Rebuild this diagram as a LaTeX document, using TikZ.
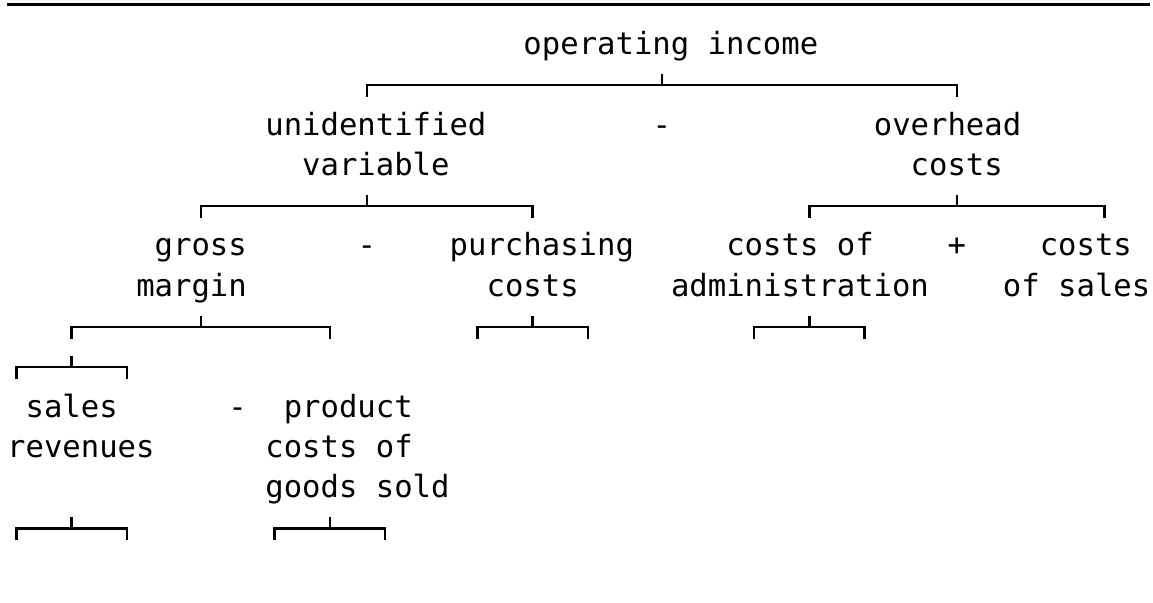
\documentclass[tikz,border=0pt]{standalone}
\usepackage{fontspec}
\newfontfamily\monofam{DejaVu Sans Mono}
\newcommand\bracketrow[5]{%
  \coordinate (#1L) at (#3+0.5,#2);
  \coordinate (#1M) at (#4+0.5,#2);
  \coordinate (#1R) at (#5+0.5,#2);
  \draw[br] ([yshift=-12pt]#1L) -- (#1L) -- (#1R) -- ([yshift=-12pt]#1R);
  \draw[br] (#1M) -- ([yshift=11pt]#1M);
}
\begin{document}
\begin{tikzpicture}[x=18.44pt, y=-40.3pt,
  lbl/.style={anchor=base west, inner sep=0pt, outer sep=0pt,
    font=\monofam\fontsize{30.6pt}{36pt}\selectfont},
  br/.style={line width=2.5pt, line cap=butt, black}]
\useasboundingbox (0,0) rectangle (62.53,14.963);
\begin{scope}[shift={(0.39,0.109)}]
  % top rule
  \coordinate (ruleL) at (0,0);
  \coordinate (ruleR) at (62,0);
  \draw[br] (ruleL) -- (ruleR);
  % row 1
  \node[lbl] (oi) at (28,1.241) {operating income};
  \bracketrow{b2}{2}{19}{35}{51}
  % rows 3-4
  \node[lbl] (uv1) at (14,3.241) {unidentified};
  \node[lbl] (op1) at (35,3.241) {-};
  \node[lbl] (oh1) at (47,3.241) {overhead};
  \node[lbl] (uv2) at (16,4.241) {variable};
  \node[lbl] (oh2) at (49,4.241) {costs};
  \bracketrow{b5a}{5}{10}{19}{28}
  \bracketrow{b5b}{5}{43}{51}{59}
  % rows 6-7
  \node[lbl] (gm1) at (8,6.241) {gross};
  \node[lbl] (op2) at (19,6.241) {-};
  \node[lbl] (pc1) at (24,6.241) {purchasing};
  \node[lbl] (ca1) at (39,6.241) {costs of};
  \node[lbl] (op3) at (51,6.241) {+};
  \node[lbl] (cs1) at (56,6.241) {costs};
  \node[lbl] (gm2) at (7,7.241) {margin};
  \node[lbl] (pc2) at (26,7.241) {costs};
  \node[lbl] (ca2) at (36,7.241) {administration};
  \node[lbl] (cs2) at (54,7.241) {of sales};
  \bracketrow{b8a}{8}{3}{10}{17}
  \bracketrow{b8b}{8}{25}{28}{31}
  \bracketrow{b8c}{8}{40}{43}{46}
  \bracketrow{b9}{9}{0}{3}{6}
  % rows 10-12
  \node[lbl] (sr1) at (1,10.241) {sales};
  \node[lbl] (op4) at (12,10.241) {-};
  \node[lbl] (pg1) at (15,10.241) {product};
  \node[lbl] (sr2) at (0,11.241) {revenues};
  \node[lbl] (pg2) at (14,11.241) {costs of};
  \node[lbl] (pg3) at (14,12.241) {goods sold};
  \bracketrow{b13a}{13}{0}{3}{6}
  \bracketrow{b13b}{13}{14}{17}{20}
\end{scope}
\end{tikzpicture}
\end{document}
